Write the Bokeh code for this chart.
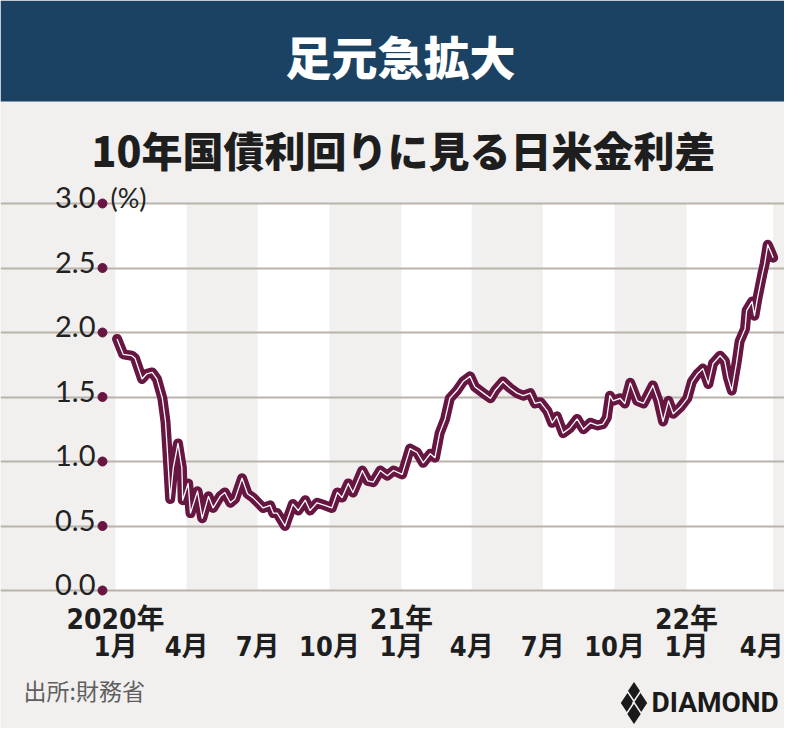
import pandas as pd
import numpy as np
from bokeh.plotting import figure
from bokeh.models import ColumnDataSource, Range1d, BoxAnnotation
from bokeh.core.properties import value
from bokeh.embed import file_html
from bokeh.resources import INLINE

# ---------------- data ----------------
dates = [
    "2020-01-03", "2020-01-11", "2020-01-22", "2020-01-26", "2020-02-04", "2020-02-10",
    "2020-02-17", "2020-02-23", "2020-03-01", "2020-03-05", "2020-03-07", "2020-03-11",
    "2020-03-15", "2020-03-21", "2020-03-26", "2020-03-27", "2020-04-03", "2020-04-06",
    "2020-04-15", "2020-04-21", "2020-04-29", "2020-05-05", "2020-05-14", "2020-05-20",
    "2020-05-27", "2020-06-02", "2020-06-11", "2020-06-18", "2020-06-25", "2020-07-08",
    "2020-07-17", "2020-07-21", "2020-07-26", "2020-08-05", "2020-08-15", "2020-08-22",
    "2020-08-31", "2020-09-06", "2020-09-15", "2020-09-25", "2020-10-04", "2020-10-11",
    "2020-10-17", "2020-10-25", "2020-10-31", "2020-11-12", "2020-11-19", "2020-11-26",
    "2020-12-05", "2020-12-14", "2020-12-22", "2021-01-02", "2021-01-12", "2021-01-21",
    "2021-01-29", "2021-02-07", "2021-02-13", "2021-02-19", "2021-02-26", "2021-03-04",
    "2021-03-13", "2021-03-21", "2021-03-30", "2021-04-05", "2021-04-16", "2021-04-25",
    "2021-05-01", "2021-05-11", "2021-05-20", "2021-05-29", "2021-06-06", "2021-06-15",
    "2021-06-21", "2021-06-28", "2021-07-07", "2021-07-13", "2021-07-19", "2021-07-27",
    "2021-08-05", "2021-08-14", "2021-08-22", "2021-08-31", "2021-09-09", "2021-09-16",
    "2021-09-21", "2021-09-25", "2021-09-29", "2021-10-08", "2021-10-14", "2021-10-21",
    "2021-10-30", "2021-11-07", "2021-11-19", "2021-11-26", "2021-12-02", "2021-12-09",
    "2021-12-15", "2021-12-24", "2022-01-02", "2022-01-08", "2022-01-15", "2022-01-22",
    "2022-01-29", "2022-02-04", "2022-02-13", "2022-02-19", "2022-02-23", "2022-02-28",
    "2022-03-06", "2022-03-10", "2022-03-17", "2022-03-19", "2022-03-26", "2022-03-29",
    "2022-04-02", "2022-04-08", "2022-04-11", "2022-04-15", "2022-04-20", "2022-04-22",
]
spread = [
    1.95, 1.83, 1.82, 1.80, 1.64, 1.68,
    1.69, 1.64, 1.49, 1.31, 1.12, 0.71,
    0.95, 1.14, 0.95, 0.70, 0.83, 0.60,
    0.77, 0.56, 0.73, 0.64, 0.73, 0.76,
    0.68, 0.71, 0.87, 0.75, 0.72, 0.64,
    0.66, 0.60, 0.60, 0.50, 0.67, 0.62,
    0.70, 0.62, 0.68, 0.66, 0.64, 0.76,
    0.72, 0.83, 0.76, 0.93, 0.85, 0.84,
    0.93, 0.89, 0.93, 0.90, 1.10, 1.07,
    0.99, 1.06, 1.03, 1.22, 1.33, 1.49,
    1.55, 1.62, 1.66, 1.58, 1.53, 1.49,
    1.55, 1.62, 1.57, 1.53, 1.51, 1.53,
    1.45, 1.46, 1.39, 1.30, 1.35, 1.22,
    1.26, 1.33, 1.25, 1.30, 1.28, 1.29,
    1.34, 1.51, 1.47, 1.49, 1.45, 1.61,
    1.47, 1.45, 1.59, 1.47, 1.31, 1.47,
    1.37, 1.42, 1.49, 1.62, 1.68, 1.72,
    1.60, 1.76, 1.82, 1.78, 1.65, 1.55,
    1.76, 1.93, 2.03, 2.17, 2.24, 2.13,
    2.27, 2.45, 2.53, 2.68, 2.61, 2.58,
]
month_ticks = ["2020-01-01", "2020-04-01", "2020-07-01", "2020-10-01", "2021-01-01",
               "2021-04-01", "2021-07-01", "2021-10-01", "2022-01-01", "2022-04-01"]
month_labels = ["1月", "4月", "7月", "10月", "1月", "4月", "7月", "10月", "1月", "4月"]
year_ticks = ["2020-01-01", "2021-01-01", "2022-01-01"]
year_labels = ["2020年", "21年", "22年"]
y_ticks = [0.0, 0.5, 1.0, 1.5, 2.0, 2.5, 3.0]
y_labels = ["0.0", "0.5", "1.0", "1.5", "2.0", "2.5", "3.0"]
band_starts = ["2020-01-01", "2020-07-01", "2021-01-01", "2021-07-01", "2022-01-01"]
band_ends = ["2020-04-01", "2020-10-01", "2021-04-01", "2021-10-01", "2022-04-22"]

ORIGIN = pd.Timestamp("2020-01-01")


def days(lst):
    return ((pd.to_datetime(lst) - ORIGIN).days).to_numpy().astype(float)


# ---------------- layout helpers (pixel positions in the picture) ----------------
W, H = 784, 728
PXD = 0.7811   # px per day
PXV = 129.0    # px per 1 percentage point


def sx(X):
    return (X - 115.0) / PXD


def sy(Y):
    return (590.0 - Y) / PXV


BG = "#f1f0ee"
NAVY = "#1b4262"
MAROON = "#661640"
GRID = "#b9b3ab"
CJK = "Noto Sans CJK JP"
HEAVY = "'Noto Sans CJK JP Black', 'Noto Sans CJK JP', sans-serif"
NARROW = "'Liberation Sans Narrow', 'DejaVu Sans Condensed', 'Noto Sans CJK JP', sans-serif"

p = figure(width=W, height=H, output_backend="svg", toolbar_location=None,
           x_range=Range1d(sx(0), sx(W)), y_range=Range1d(sy(H), sy(0)),
           x_axis_location=None, y_axis_location=None, min_border=0,
           background_fill_color=BG, border_fill_color=BG, outline_line_color=None)
p.grid.visible = False

# header band
p.add_layout(BoxAnnotation(bottom=sy(101), fill_color=NAVY, fill_alpha=1.0,
                           line_color=None, level="underlay"))
p.text(x=[sx(400)], y=[sy(54)], text=["足元急拡大"], text_font=value(HEAVY),
       text_font_style="bold", text_font_size="46px", text_color="white",
       text_align="center", text_baseline="middle")
p.text(x=[sx(403)], y=[sy(148)], text=["10年国債利回りに見る日米金利差"], text_font=value(HEAVY),
       text_font_style="bold", text_font_size="41px", text_color="#1e1e1e",
       text_align="center", text_baseline="middle")

# alternating quarter bands
bands = ColumnDataSource(dict(left=days(band_starts), right=days(band_ends),
                              bottom=[0.0] * len(band_starts), top=[3.0] * len(band_starts)))
p.quad(left="left", right="right", bottom="bottom", top="top", source=bands,
       fill_color="white", line_color=None)

# horizontal gridlines
p.hspan(y=y_ticks, line_color=GRID, line_width=2)

# y tick dots and labels
p.scatter(x=[sx(102)] * len(y_ticks), y=y_ticks, size=9, color=MAROON)
p.text(x=[sx(95)] * len(y_ticks), y=[t + 6 / PXV for t in y_ticks], text=y_labels,
       text_font=value("Lato"), text_font_size="29px", text_color="#222222",
       text_align="right", text_baseline="alphabetic")
p.text(x=[sx(110)], y=[3.0 + 6 / PXV], text=["(%)"], text_font=value("Lato"),
       text_font_size="27px", text_color="#222222", text_align="left",
       text_baseline="alphabetic")

# data line: thick maroon casing with thin white core
src = ColumnDataSource(dict(x=days(dates), y=spread))
p.line("x", "y", source=src, line_color=MAROON, line_width=10,
       line_join="round", line_cap="round")
p.line("x", "y", source=src, line_color="white", line_width=1.3, line_join="round")

# x labels
mx = days(month_ticks)
moff = [0] * (len(month_ticks) - 1) + [5]
p.text(x=mx, y=[sy(646)] * len(mx), text=month_labels, x_offset=moff,
       text_font=value(NARROW), text_font_style="bold", text_font_size="27px",
       text_color="#1e1e1e", text_align="center", text_baseline="middle")
p.text(x=days(year_ticks), y=[sy(619)] * len(year_ticks), text=year_labels,
       text_font=value(NARROW), text_font_style="bold", text_font_size="28px",
       text_color="#1e1e1e", text_align="center", text_baseline="middle")

# source note
p.text(x=[sx(23)], y=[sy(689)], text=["出所:財務省"], text_font=value(CJK),
       text_font_size="23px", text_color="#5f5f5f", text_align="left",
       text_baseline="middle")

# DIAMOND logo
cx, cy = 633.5, 702.5
p.scatter(x=[sx(cx), sx(cx - 6.5), sx(cx + 6.5), sx(cx)],
          y=[sy(cy - 11), sy(cy), sy(cy), sy(cy + 11)],
          marker="diamond", size=23, fill_color="#1a1a1a", line_color=BG, line_width=1.5)
p.text(x=[sx(651)], y=[sy(702)], text=["DIAMOND"], text_font=value("Roboto"),
       text_font_style="bold", text_font_size="28px", text_color="#1a1a1a",
       text_align="left", text_baseline="middle")

open("out.html", "w").write(file_html(p, INLINE))
